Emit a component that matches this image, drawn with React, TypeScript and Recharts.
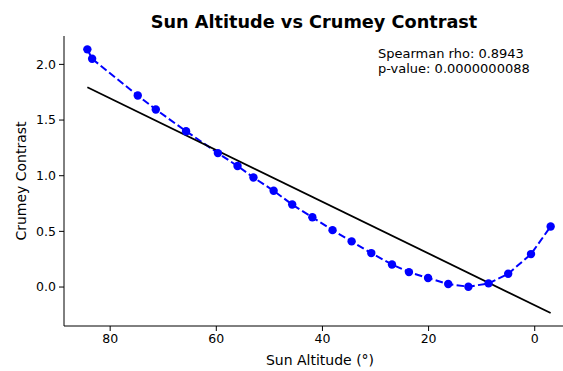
import { Line, LineChart, XAxis, YAxis } from 'recharts'

// sun altitude (deg) vs Crumey contrast
const altitude = [84.3, 83.4, 74.8, 71.4, 65.7, 59.7, 56.0, 53.0, 49.2, 45.7, 41.9, 38.1, 34.5, 30.8, 26.9, 23.7, 20.1, 16.3, 12.5, 8.7, 5.0, 0.7, -3.0]
const contrast = [2.135, 2.05, 1.72, 1.595, 1.4, 1.203, 1.087, 0.984, 0.865, 0.741, 0.627, 0.511, 0.41, 0.305, 0.203, 0.134, 0.081, 0.027, 0.003, 0.033, 0.119, 0.296, 0.544]

// linear fit endpoints
const fitX = [84.3, -3.0]
const fitY = [1.795, -0.233]

const xTicks = [80, 60, 40, 20, 0]
const yTicks = [0, 0.5, 1.0, 1.5, 2.0]

const points = altitude.map((x, i) => ({ x, y: contrast[i] }))
const fit = fitX.map((x, i) => ({ x, y: fitY[i] }))

const font = '"DejaVu Sans", sans-serif'
const tick = { fill: '#000', fontSize: 12.5, fontFamily: font }
const axisLine = { stroke: '#000', strokeWidth: 1 }

export default function App() {
  return (
    <div style={{ position: 'absolute', left: 0, top: 0, width: 563, height: 371, overflow: 'hidden', background: '#fff' }}>
      <LineChart width={600} height={371} margin={{ top: 36, right: 26, bottom: 0, left: 0 }}>
        <XAxis
          xAxisId={0}
          type="number"
          dataKey="x"
          domain={[-7.4, 88.7]}
          reversed
          allowDataOverflow
          ticks={xTicks}
          tick={tick}
          tickSize={5}
          tickMargin={3}
          tickLine={{ stroke: '#000' }}
          axisLine={axisLine}
          height={45}
        />
        <XAxis xAxisId="top" orientation="top" type="number" domain={[-7.4, 88.7]} reversed tick={false} tickLine={false} axisLine={axisLine} height={0} />
        <YAxis
          type="number"
          domain={[-0.35, 2.255]}
          allowDataOverflow
          ticks={yTicks}
          tickFormatter={(v: number) => v.toFixed(1)}
          tick={tick}
          tickSize={5}
          tickMargin={3}
          tickLine={{ stroke: '#000' }}
          axisLine={axisLine}
          width={64}
        />
        <Line
          data={points}
          dataKey="y"
          type="linear"
          stroke="#0000ff"
          strokeWidth={2}
          strokeDasharray="7.5 3.3"
          dot={{ r: 4.2, fill: '#0000ff', stroke: '#0000ff', strokeWidth: 0 }}
          activeDot={false}
          isAnimationActive={false}
        />
        <Line data={fit} dataKey="y" type="linear" stroke="#000" strokeWidth={1.8} dot={false} activeDot={false} isAnimationActive={false} />
      </LineChart>
      <svg width={563} height={371} style={{ position: 'absolute', left: 0, top: 0, pointerEvents: 'none' }} fontFamily={font}>
        <text x={314} y={28} textAnchor="middle" fontSize={17.7} fontWeight="bold">Sun Altitude vs Crumey Contrast</text>
        <text x={320} y={365} textAnchor="middle" fontSize={14}>Sun Altitude (°)</text>
        <text transform="translate(26,181) rotate(-90)" textAnchor="middle" fontSize={14}>Crumey Contrast</text>
        <text x={378} y={57.5} fontSize={13}>Spearman rho: 0.8943</text>
        <text x={378} y={72.5} fontSize={13}>p-value: 0.0000000088</text>
      </svg>
    </div>
  )
}
